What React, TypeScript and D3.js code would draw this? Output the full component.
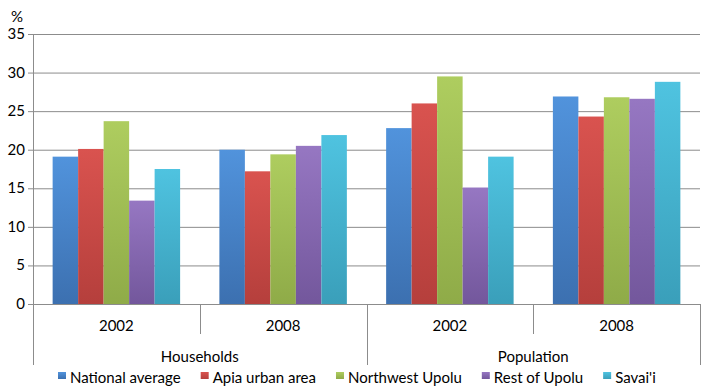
import React, { useEffect, useRef } from 'react';
import * as d3 from 'd3';

// chart data
const groups: string[] = ['Households', 'Population'];
const years: string[] = ['2002', '2008'];
const regions: string[] = ['National average', 'Apia urban area', 'Northwest Upolu', 'Rest of Upolu', "Savai'i"];
const households2002: number[] = [19.1, 20.1, 23.7, 13.4, 17.5];
const households2008: number[] = [20.0, 17.2, 19.4, 20.5, 21.9];
const population2002: number[] = [22.8, 26.0, 29.5, 15.1, 19.1];
const population2008: number[] = [26.9, 24.3, 26.8, 26.6, 28.8];
const yTicks: number[] = [0, 5, 10, 15, 20, 25, 30, 35];

const colorsTop: string[] = ['#5193dc', '#d9534f', '#aecd5f', '#9677c2', '#4fc3e0'];
const colorsBottom: string[] = ['#3c70b0', '#b53f3c', '#8fab48', '#73579c', '#3a9fba'];

const width: number = 704;
const height: number = 388;
const font: string = 'Lato, "Open Sans", sans-serif';

export default function App() {
  const ref = useRef<SVGSVGElement>(null);

  useEffect(() => {
    const svg: any = d3.select(ref.current);
    svg.selectAll('*').remove();

    const left = 33, right = 700, top = 34, bottom = 304;
    const cats = groups.flatMap((g) => years.map((y) => `${g}|${y}`));
    const values = [households2002, households2008, population2002, population2008];

    const x: any = d3.scaleBand().domain(cats).range([left, right]);
    const x1: any = d3.scaleBand().domain(regions).range([0, x.bandwidth()]).paddingOuter(0.77);
    const y: any = d3.scaleLinear().domain([0, 35]).range([bottom, top]);

    // gradients
    const defs = svg.append('defs');
    regions.forEach((r, i) => {
      const lg = defs.append('linearGradient').attr('id', `g${i}`).attr('x1', 0).attr('x2', 0).attr('y1', 0).attr('y2', 1);
      lg.append('stop').attr('offset', '0%').attr('stop-color', colorsTop[i]);
      lg.append('stop').attr('offset', '100%').attr('stop-color', colorsBottom[i]);
    });

    // gridlines and ticks
    svg.append('g')
      .selectAll('line')
      .data(yTicks)
      .enter()
      .append('line')
      .attr('x1', left - 5)
      .attr('x2', right)
      .attr('y1', (d: number) => y(d) + 0.5)
      .attr('y2', (d: number) => y(d) + 0.5)
      .attr('stroke', '#8c8c8c')
      .attr('stroke-width', 1);

    svg.append('g')
      .selectAll('text')
      .data(yTicks)
      .enter()
      .append('text')
      .attr('x', 25)
      .attr('y', (d: number) => y(d) + 5)
      .attr('text-anchor', 'end')
      .attr('font-family', font)
      .attr('font-size', 15)
      .attr('fill', '#000')
      .text((d: number) => d);

    svg.append('text')
      .attr('x', 17)
      .attr('y', 22)
      .attr('text-anchor', 'middle')
      .attr('font-family', font)
      .attr('font-size', 15)
      .text('%');

    // y axis line
    svg.append('line')
      .attr('x1', left + 0.5).attr('x2', left + 0.5)
      .attr('y1', top).attr('y2', 365)
      .attr('stroke', '#8c8c8c');

    // bars
    cats.forEach((c, ci) => {
      svg.append('g')
        .selectAll('rect')
        .data(values[ci])
        .enter()
        .append('rect')
        .attr('x', (d: number, i: number) => x(c) + x1(regions[i]))
        .attr('y', (d: number) => y(d))
        .attr('width', x1.bandwidth())
        .attr('height', (d: number) => bottom - y(d))
        .attr('fill', (d: number, i: number) => `url(#g${i})`);
    });

    // category separators
    cats.forEach((c, ci) => {
      const xe = x(c) + x.bandwidth();
      const longLine = ci % 2 === 1;
      svg.append('line')
        .attr('x1', Math.round(xe) + 0.5).attr('x2', Math.round(xe) + 0.5)
        .attr('y1', bottom).attr('y2', longLine ? 365 : 334)
        .attr('stroke', '#8c8c8c');
      svg.append('text')
        .attr('x', x(c) + x.bandwidth() / 2)
        .attr('y', 331)
        .attr('text-anchor', 'middle')
        .attr('font-family', font)
        .attr('font-size', 15)
        .text(c.split('|')[1]);
    });

    groups.forEach((g, gi) => {
      svg.append('text')
        .attr('x', x(`${g}|${years[0]}`) + x.bandwidth())
        .attr('y', 362)
        .attr('text-anchor', 'middle')
        .attr('font-family', font)
        .attr('font-size', 15)
        .text(g);
    });

    // legend
    let lx = 58;
    regions.forEach((r, i) => {
      svg.append('rect')
        .attr('x', lx).attr('y', 372)
        .attr('width', 8).attr('height', 7)
        .attr('fill', `url(#g${i})`);
      const t = svg.append('text')
        .attr('x', lx + 12)
        .attr('y', 383)
        .attr('font-family', font)
        .attr('font-size', 15)
        .text(r);
      lx += 12 + t.node().getComputedTextLength() + 20;
    });
  }, []);

  return <svg ref={ref} width={width} height={height} style={{ position: 'absolute', left: 0, top: 0, background: '#fff' }} />;
}
